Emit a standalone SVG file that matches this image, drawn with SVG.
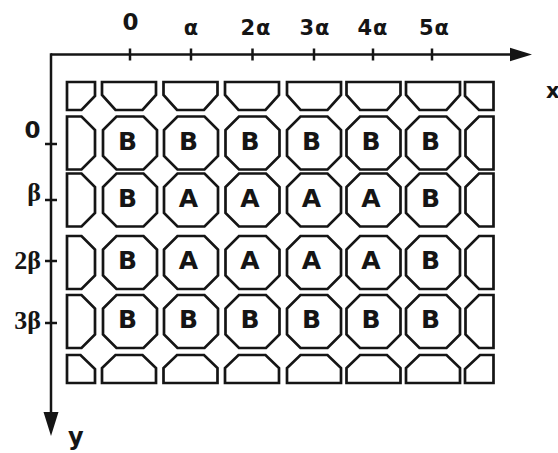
<svg xmlns="http://www.w3.org/2000/svg" xmlns:xlink="http://www.w3.org/1999/xlink" width="558" height="453" viewBox="0 0 558 453">
<style>
.s{fill:#fff;stroke:#151515;stroke-width:2.7;stroke-linejoin:miter}
.ax{stroke:#151515;stroke-width:2.5;fill:none}
.lt{font-family:"DejaVu Sans","Liberation Sans",sans-serif;font-weight:bold;font-size:25px;fill:#151515;text-anchor:middle}
.tl{font-family:"DejaVu Sans","Liberation Sans",sans-serif;font-weight:bold;font-size:21px;fill:#151515;text-anchor:middle;letter-spacing:1px}
.sl{font-family:"Liberation Serif","DejaVu Serif",serif;font-weight:bold;font-size:26px;fill:#151515;text-anchor:end}
</style>
<defs>
<polygon id="oct" class="s" points="-13.5,-26.5 13.5,-26.5 27,-13 27,13 13.5,26.5 -13.5,26.5 -27,13 -27,-13"/>
<polygon id="topT" class="s" points="-27,82 27,82 27,95 13.5,110 -13.5,110 -27,95"/>
<polygon id="botT" class="s" points="-13.5,355 13.5,355 27,368 27,383 -27,383 -27,368"/>
<polygon id="lh" class="s" points="0,-26.5 14.5,-26.5 28,-13 28,13 14.5,26.5 0,26.5"/>
<polygon id="rh" class="s" points="28,-26.5 13.5,-26.5 0,-13 0,13 13.5,26.5 28,26.5"/>
</defs>
<rect width="558" height="453" fill="#fff"/>

<g id="axes">
<line class="ax" x1="51" y1="54.5" x2="512" y2="54.5"/>
<polygon points="510,47.8 532,54.5 510,61.2" fill="#151515"/>
<line class="ax" x1="51" y1="53.3" x2="51" y2="414"/>
<polygon points="43.5,412 58.5,412 51,436" fill="#151515"/>
<g class="ax">
<line x1="130" y1="48.5" x2="130" y2="60.5"/>
<line x1="191" y1="48.5" x2="191" y2="60.5"/>
<line x1="252.5" y1="48.5" x2="252.5" y2="60.5"/>
<line x1="314" y1="48.5" x2="314" y2="60.5"/>
<line x1="373" y1="48.5" x2="373" y2="60.5"/>
<line x1="432" y1="48.5" x2="432" y2="60.5"/>
<line x1="45" y1="144" x2="57" y2="144"/>
<line x1="45" y1="200" x2="57" y2="200"/>
<line x1="45" y1="261" x2="57" y2="261"/>
<line x1="45" y1="323" x2="57" y2="323"/>
</g>
</g>

<g id="axis-labels">
<text x="131" y="29.5" class="tl" style="font-size:23px">0</text>
<text x="191.5" y="35" class="tl">α</text>
<text x="256" y="35" class="tl">2α</text>
<text x="315" y="35" class="tl">3α</text>
<text x="373" y="35" class="tl">4α</text>
<text x="434.5" y="35" class="tl">5α</text>
<text x="546" y="98" font-family="DejaVu Sans,sans-serif" font-weight="bold" font-size="21" fill="#151515">x</text>
<text x="68" y="445" font-family="DejaVu Sans,sans-serif" font-weight="bold" font-size="24" fill="#151515">y</text>
<text x="40.5" y="137.5" font-family="DejaVu Sans,sans-serif" font-weight="bold" font-size="23" fill="#151515" text-anchor="end">0</text>
<text class="sl" x="41" y="201">β</text>
<text class="sl" x="41" y="269">2β</text>
<text class="sl" x="41" y="329">3β</text>
</g>

<g id="top-row">
<polygon class="s" points="67,82 95,82 95,96 81.5,110 67,110"/>
<use xlink:href="#topT" x="129"/>
<use xlink:href="#topT" x="190.5"/>
<use xlink:href="#topT" x="252"/>
<use xlink:href="#topT" x="314"/>
<use xlink:href="#topT" x="373.5"/>
<use xlink:href="#topT" x="433"/>
<polygon class="s" points="465,82 493.5,82 493.5,110 479,110 465,96"/>
</g>

<g id="row1">
<use xlink:href="#lh" x="67" y="143"/>
<g id="r1c1"><use xlink:href="#oct" x="130" y="143"/><text class="lt" x="127.5" y="149.6">B</text></g>
<g id="r1c2"><use xlink:href="#oct" x="191" y="143"/><text class="lt" x="188.5" y="149.6">B</text></g>
<g id="r1c3"><use xlink:href="#oct" x="252.5" y="143"/><text class="lt" x="250" y="149.6">B</text></g>
<g id="r1c4"><use xlink:href="#oct" x="314" y="143"/><text class="lt" x="311.5" y="149.6">B</text></g>
<g id="r1c5"><use xlink:href="#oct" x="373.5" y="143"/><text class="lt" x="371" y="149.6">B</text></g>
<g id="r1c6"><use xlink:href="#oct" x="433" y="143"/><text class="lt" x="430.5" y="149.6">B</text></g>
<use xlink:href="#rh" x="465.5" y="143"/>
</g>

<g id="row2">
<use xlink:href="#lh" x="67" y="200"/>
<g id="r2c1"><use xlink:href="#oct" x="130" y="200"/><text class="lt" x="127.5" y="206.6">B</text></g>
<g id="r2c2"><use xlink:href="#oct" x="191" y="200"/><text class="lt" x="188.5" y="206.6">A</text></g>
<g id="r2c3"><use xlink:href="#oct" x="252.5" y="200"/><text class="lt" x="250" y="206.6">A</text></g>
<g id="r2c4"><use xlink:href="#oct" x="314" y="200"/><text class="lt" x="311.5" y="206.6">A</text></g>
<g id="r2c5"><use xlink:href="#oct" x="373.5" y="200"/><text class="lt" x="371" y="206.6">A</text></g>
<g id="r2c6"><use xlink:href="#oct" x="433" y="200"/><text class="lt" x="430.5" y="206.6">B</text></g>
<use xlink:href="#rh" x="465.5" y="200"/>
</g>

<g id="row3">
<use xlink:href="#lh" x="67" y="262.5"/>
<g id="r3c1"><use xlink:href="#oct" x="130" y="262.5"/><text class="lt" x="127.5" y="269.1">B</text></g>
<g id="r3c2"><use xlink:href="#oct" x="191" y="262.5"/><text class="lt" x="188.5" y="269.1">A</text></g>
<g id="r3c3"><use xlink:href="#oct" x="252.5" y="262.5"/><text class="lt" x="250" y="269.1">A</text></g>
<g id="r3c4"><use xlink:href="#oct" x="314" y="262.5"/><text class="lt" x="311.5" y="269.1">A</text></g>
<g id="r3c5"><use xlink:href="#oct" x="373.5" y="262.5"/><text class="lt" x="371" y="269.1">A</text></g>
<g id="r3c6"><use xlink:href="#oct" x="433" y="262.5"/><text class="lt" x="430.5" y="269.1">B</text></g>
<use xlink:href="#rh" x="465.5" y="262.5"/>
</g>

<g id="row4">
<use xlink:href="#lh" x="67" y="321.5"/>
<g id="r4c1"><use xlink:href="#oct" x="130" y="321.5"/><text class="lt" x="127.5" y="328.1">B</text></g>
<g id="r4c2"><use xlink:href="#oct" x="191" y="321.5"/><text class="lt" x="188.5" y="328.1">B</text></g>
<g id="r4c3"><use xlink:href="#oct" x="252.5" y="321.5"/><text class="lt" x="250" y="328.1">B</text></g>
<g id="r4c4"><use xlink:href="#oct" x="314" y="321.5"/><text class="lt" x="311.5" y="328.1">B</text></g>
<g id="r4c5"><use xlink:href="#oct" x="373.5" y="321.5"/><text class="lt" x="371" y="328.1">B</text></g>
<g id="r4c6"><use xlink:href="#oct" x="433" y="321.5"/><text class="lt" x="430.5" y="328.1">B</text></g>
<use xlink:href="#rh" x="465.5" y="321.5"/>
</g>

<g id="bottom-row">
<polygon class="s" points="67,355 80.5,355 95,369 95,383 67,383"/>
<use xlink:href="#botT" x="129"/>
<use xlink:href="#botT" x="190.5"/>
<use xlink:href="#botT" x="252"/>
<use xlink:href="#botT" x="314"/>
<use xlink:href="#botT" x="373.5"/>
<use xlink:href="#botT" x="433"/>
<polygon class="s" points="480,355 493.5,355 493.5,383 465,383 465,369"/>
</g>
</svg>
